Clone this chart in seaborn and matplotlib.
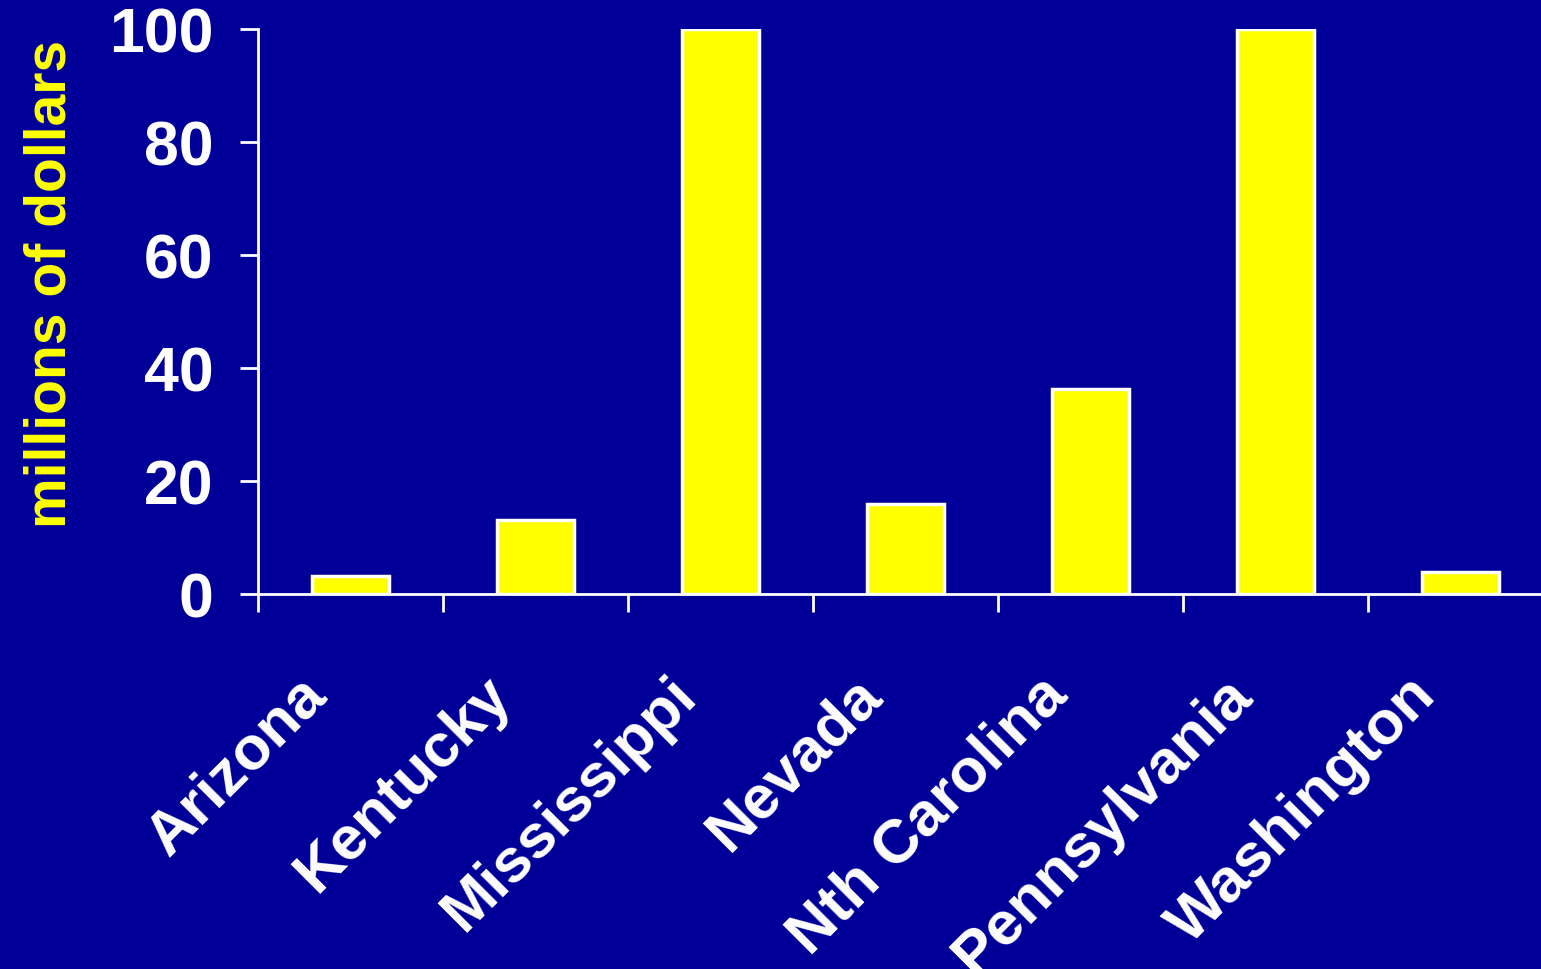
import seaborn as sns
import pandas as pd
import matplotlib.pyplot as plt
from matplotlib.transforms import ScaledTranslation

states = ['Arizona', 'Kentucky', 'Mississippi', 'Nevada', 'Nth Carolina', 'Pennsylvania', 'Washington']
dollars = [3.2, 13.1, 100, 16, 36.2, 100, 3.9]
yticks = [0, 20, 40, 60, 80, 100]

bg = '#000099'
df = pd.DataFrame({'state': states, 'dollars': dollars})

sns.set_style('white')
plt.rcParams['font.family'] = ['Liberation Sans', 'DejaVu Sans']
plt.rcParams['font.weight'] = 'bold'

fig = plt.figure(figsize=(15.41, 9.70), dpi=100, facecolor=bg)
ax = fig.add_axes([258 / 1541, 375 / 970, 1283 / 1541, 565 / 970])
ax.set_facecolor(bg)

sns.barplot(data=df, x='state', y='dollars', color='#ffff00', edgecolor='white',
            linewidth=2.5, width=0.42, saturation=1, ax=ax)

ax.set_ylim(0, 100)
ax.set_xlim(-0.5, 1283 / 185 - 0.5)
ax.set_yticks(yticks)
ax.set_yticklabels([str(v) for v in yticks], fontsize=45, fontweight='bold', color='white')

# tick marks on category boundaries, labels on centres
ax.set_xticks([i - 0.5 for i in range(len(states))])
ax.set_xticklabels([])
ax.set_xticks(range(len(states)), minor=True)
ax.set_xticklabels(states, minor=True, rotation=45, ha='right', va='top',
                   rotation_mode='anchor', fontsize=44.5, fontweight='bold', color='white')
ax.tick_params(axis='x', which='minor', length=0, pad=60)
ax.tick_params(axis='both', which='major', direction='out', length=13, width=2,
               color='white', bottom=True, left=True)
ax.tick_params(axis='y', pad=19)

shift = ScaledTranslation(-0.53, 0.12, fig.dpi_scale_trans)
for lab in ax.get_xticklabels(minor=True):
    lab.set_transform(lab.get_transform() + shift)

for s in ['top', 'right']:
    ax.spines[s].set_visible(False)
for s in ['left', 'bottom']:
    ax.spines[s].set_color('white')
    ax.spines[s].set_linewidth(2)

ax.set_xlabel('')
ax.set_ylabel('millions of dollars', fontsize=41, fontweight='bold', color='#ffff00')
ax.yaxis.set_label_coords(-0.141, 0.55)

fig.savefig('out.png', dpi=100, facecolor=bg)
